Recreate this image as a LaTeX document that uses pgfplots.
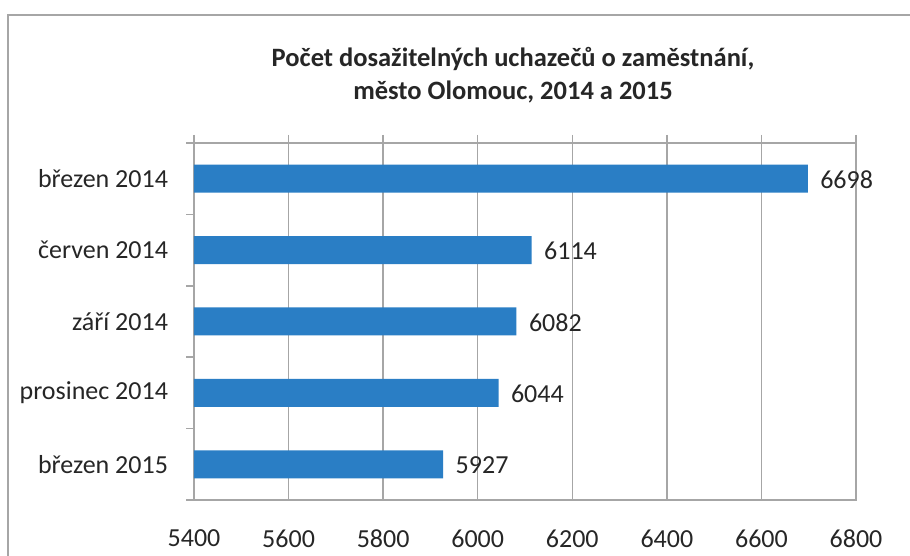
\documentclass[border=0pt]{standalone}
\usepackage{pgfplots}
\pgfplotsset{compat=1.18}
\usepackage{fontspec}
\setmainfont{Carlito}
\definecolor{barblue}{HTML}{2A7EC5}
\definecolor{gridgray}{HTML}{A6A6A6}
\definecolor{txt}{HTML}{262626}
\begin{document}
\begin{tikzpicture}[x=1pt,y=1pt]
\useasboundingbox (0,0) rectangle (910,556);
\fill[white] (0,0) rectangle (910,556);
\draw[gridgray, line width=2pt] (7.5,-5) -- (7.5,541) -- (915,541);
\node[font=\fontsize{26.5}{33}\selectfont\bfseries, text=txt, align=center] at (513,481) {Počet dosažitelných uchazečů o zaměstnání,\\ město Olomouc, 2014 a 2015};
\begin{axis}[
  at={(194pt,56pt)}, anchor=south west, scale only axis,
  width=662pt, height=357pt,
  xbar, bar width=28pt,
  xmin=5400, xmax=6800, xtick={5400,5600,...,6800},
  ymin=-0.5, ymax=4.5,
  ytick={-0.5,0.5,...,4.5}, yticklabels={},
  extra y ticks={0,1,2,3,4},
  extra y tick labels={březen 2015,prosinec 2014,září 2014,červen 2014,březen 2014},
  extra y tick style={major tick length=0pt},
  tick align=outside,
  xtick pos=upper, xticklabel pos=lower, ytick pos=left,
  major tick length=8pt,
  tick style={gridgray, line width=1.5pt},
  axis line style={gridgray, line width=1.5pt},
  xmajorgrids, major x grid style={gridgray, line width=1.5pt},
  /pgf/number format/1000 sep={},
  /pgf/number format/assume math mode=true,
  ticklabel style={font=\fontsize{26}{30}\selectfont, text=txt},
  xticklabel style={yshift=-18pt},
  yticklabel style={xshift=-22.5pt},
  nodes near coords,
  every node near coord/.append style={font=\fontsize{26}{30}\selectfont, text=txt, anchor=west, xshift=9pt, yshift=-1pt},
  clip=false,
]
\addplot[fill=barblue, draw=none] coordinates {(5927,0) (6044,1) (6082,2) (6114,3) (6698,4)};
\end{axis}
\end{tikzpicture}
\end{document}
